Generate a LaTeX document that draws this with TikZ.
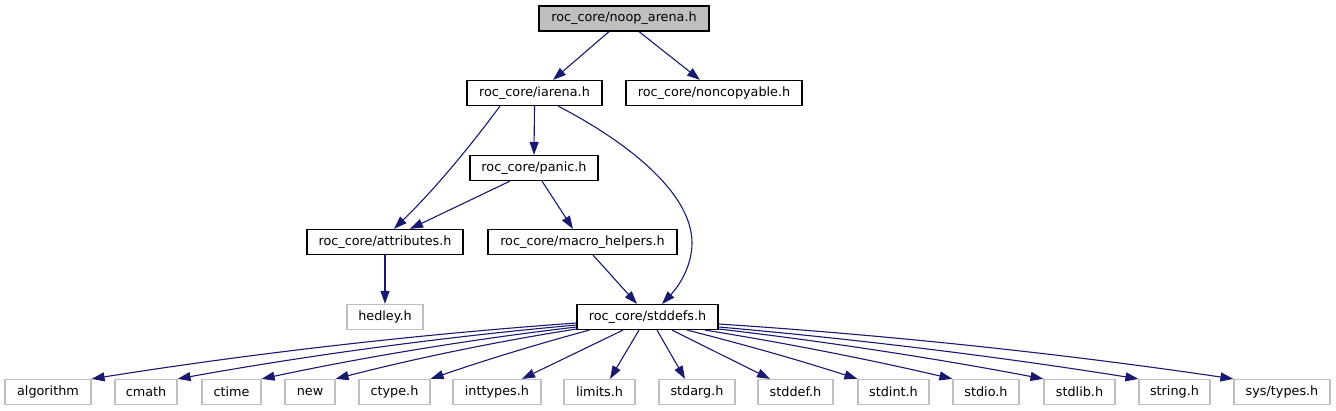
\documentclass[tikz,border=0pt]{standalone}
\usepackage{fontspec}
\setmainfont{DejaVu Sans}
\usetikzlibrary{arrows.meta,calc}
\definecolor{edgec}{HTML}{191970}
\definecolor{grayb}{HTML}{BFBFBF}
\newcommand{\bowedge}[3]{%
  \draw[edge] (#1) .. controls ($(#1)!0.33!(#2)+(0,#3)$) and ($(#1)!0.67!(#2)+(0,#3)$) .. (#2);}
\begin{document}
\begin{tikzpicture}[x=1pt,y=-1pt,
  box/.style={draw=black, line width=1.2pt, inner sep=0pt, minimum height=25pt,
    font=\fontsize{12.8}{14}\selectfont, anchor=center},
  gbox/.style={box, draw=grayb},
  edge/.style={draw=edgec, line width=1.1pt, -{Triangle[length=13pt,width=9pt]}}]
\useasboundingbox (0,0) rectangle (1336,411);
% nodes
\node[box, fill=grayb, minimum width=170pt] (noop) at (624,18.5) {roc\_core/noop\_arena.h};
\node[box, minimum width=135pt] (iarena) at (534.5,93) {roc\_core/iarena.h};
\node[box, minimum width=176pt] (noncop) at (714,93) {roc\_core/noncopyable.h};
\node[box, minimum width=128pt] (panic) at (534,168) {roc\_core/panic.h};
\node[box, minimum width=156pt] (attr) at (385,242) {roc\_core/attributes.h};
\node[box, minimum width=189pt] (macro) at (582.5,242) {roc\_core/macro\_helpers.h};
\node[gbox, minimum width=76pt] (hedley) at (385,317) {hedley.h};
\node[box, minimum width=141pt] (stddefs) at (647.5,317) {roc\_core/stddefs.h};
\node[gbox, minimum width=86pt] (algorithm) at (48,392) {algorithm};
\node[gbox, minimum width=62pt] (cmath) at (146,392) {cmath};
\node[gbox, minimum width=59pt] (ctime) at (231.5,392) {ctime};
\node[gbox, minimum width=50pt] (new) at (310,392) {new};
\node[gbox, minimum width=71pt] (ctype) at (394.5,392) {ctype.h};
\node[gbox, minimum width=88pt] (inttypes) at (497,392) {inttypes.h};
\node[gbox, minimum width=71pt] (limits) at (599.5,392) {limits.h};
\node[gbox, minimum width=76pt] (stdarg) at (697,392) {stdarg.h};
\node[gbox, minimum width=75pt] (stddef) at (795.5,392) {stddef.h};
\node[gbox, minimum width=71pt] (stdint) at (893.5,392) {stdint.h};
\node[gbox, minimum width=66pt] (stdio) at (986,392) {stdio.h};
\node[gbox, minimum width=71pt] (stdlib) at (1079.5,392) {stdlib.h};
\node[gbox, minimum width=71pt] (string) at (1174.5,392) {string.h};
\node[gbox, minimum width=96pt] (systypes) at (1282,392) {sys/types.h};
% upper edges
\draw[edge] ($(noop.south)+(-15,0)$) -- ($(iarena.north)+(18.5,0)$);
\draw[edge] ($(noop.south)+(15,0)$) -- ($(noncop.north)+(-14,0)$);
\draw[edge] (iarena.south) -- (panic.north);
\draw[edge] ($(iarena.south)+(-34.5,0)$) .. controls (469,148) and (434,190) .. ($(attr.north)+(9,0)$);
\draw[edge] ($(iarena.south)+(23.5,0)$) .. controls (620,138) and (692,190) .. (692,243)
  .. controls (692,265) and (680,285) .. ($(stddefs.north)+(14.5,0)$);
\draw[edge] ($(panic.south)+(-24,0)$) -- ($(attr.north)+(25,0)$);
\draw[edge] ($(panic.south)+(8,0)$) -- ($(macro.north)+(-9.5,0)$);
\draw[edge] ($(macro.south)+(10.5,0)$) -- ($(stddefs.north)+(-10.5,0)$);
\draw[edge] (attr.south) -- (hedley.north);
% stddefs fan-out
\coordinate (sAlg) at ($(stddefs.west)+(0,6)$);
\coordinate (sCma) at ($(stddefs.west)+(0,8)$);
\coordinate (sCti) at ($(stddefs.west)+(0,10)$);
\coordinate (sNew) at ($(stddefs.west)+(0,12)$);
\coordinate (sCty) at ($(stddefs.south west)+(13,0)$);
\coordinate (sInt) at ($(stddefs.south)+(-24.5,0)$);
\coordinate (sLim) at ($(stddefs.south)+(-8.5,0)$);
\coordinate (sArg) at ($(stddefs.south)+(9.5,0)$);
\coordinate (sDef) at ($(stddefs.south)+(24.5,0)$);
\coordinate (sInt2) at ($(stddefs.south)+(39.5,0)$);
\coordinate (sIo) at ($(stddefs.south)+(57.5,0)$);
\coordinate (sLib) at ($(stddefs.east)+(0,12)$);
\coordinate (sStr) at ($(stddefs.east)+(0,10)$);
\coordinate (sSys) at ($(stddefs.east)+(0,7)$);
\coordinate (tInt) at ($(inttypes.north)+(25,0)$);
\coordinate (tLim) at ($(limits.north)+(10.5,0)$);
\coordinate (tArg) at ($(stdarg.north)+(-12,0)$);
\coordinate (tDef) at ($(stddef.north)+(-25.5,0)$);
\bowedge{sAlg}{algorithm.north east}{-7}
\bowedge{sCma}{cmath.north east}{-6}
\bowedge{sCti}{ctime.north east}{-5}
\bowedge{sNew}{new.north east}{-4}
\bowedge{sCty}{ctype.north east}{-2}
\draw[edge] (sInt) -- (tInt);
\draw[edge] (sLim) -- (tLim);
\draw[edge] (sArg) -- (tArg);
\draw[edge] (sDef) -- (tDef);
\bowedge{sInt2}{stdint.north west}{-2}
\bowedge{sIo}{stdio.north west}{-3}
\bowedge{sLib}{stdlib.north west}{-4}
\bowedge{sStr}{string.north west}{-5}
\bowedge{sSys}{systypes.north west}{-7}
\end{tikzpicture}
\end{document}
